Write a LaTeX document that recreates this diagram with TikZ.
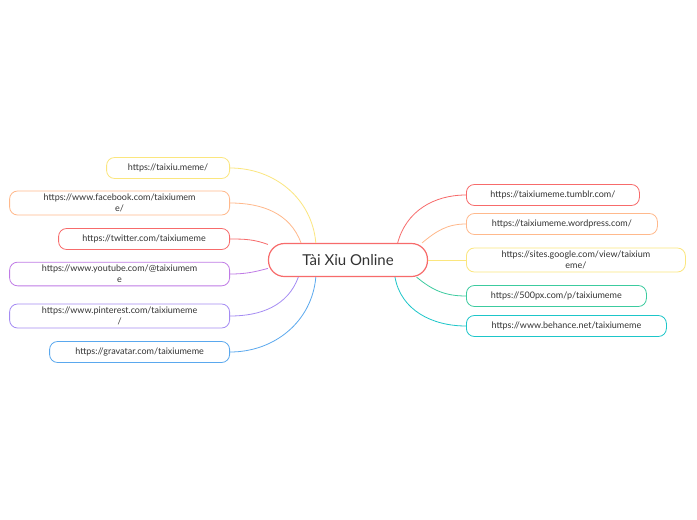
\documentclass[tikz,border=0pt]{standalone}
\usepackage{fontspec}
\setmainfont{Lato}
\definecolor{cyel}{HTML}{FBE67E}
\definecolor{cora}{HTML}{FFB98C}
\definecolor{cred}{HTML}{F76B6B}
\definecolor{cpur}{HTML}{C07BE6}
\definecolor{clav}{HTML}{A58CF3}
\definecolor{cblu}{HTML}{5AA8EE}
\definecolor{cgrn}{HTML}{3CCB9F}
\definecolor{ccya}{HTML}{1DC6C9}
\tikzset{
  leaf/.style={draw=#1, thick, rounded corners=8pt, fill=white, align=center,
    font=\fontsize{9}{11}\selectfont, text=black!80, inner xsep=6pt, inner ysep=3pt, minimum height=21pt},
  lleaf/.style={leaf=#1, anchor=east},
  rleaf/.style={leaf=#1, anchor=west},
  branch/.style={draw=#1, thick}
}
\begin{document}
\begin{tikzpicture}[x=1pt,y=-1pt]
    \useasboundingbox[fill=white] (0,0) rectangle (697,520);

    %Central topic
    \node[draw=cred, very thick, rounded corners=16pt, minimum width=159pt, minimum height=33pt,
      font=\fontsize{15}{18}\selectfont, text=black!80] (root) at (348,260) {Tài Xỉu Online};

    %Left side
    \node[lleaf=cyel, minimum width=123pt] (taixiu) at (230,168) {https://taixiu.meme/};
    \node[lleaf=cora, minimum width=220pt] (facebook) at (230,203) {https://www.facebook.com/taixiumem\\e/};
    \node[lleaf=cred, minimum width=171pt] (twitter) at (230,239) {https://twitter.com/taixiumeme};
    \node[lleaf=cpur, minimum width=220pt] (youtube) at (230,274) {https://www.youtube.com/@taixiumem\\e};
    \node[lleaf=clav, minimum width=220pt] (pinterest) at (230,316) {https://www.pinterest.com/taixiumeme\\/};
    \node[lleaf=cblu, minimum width=180pt] (gravatar) at (230,352) {https://gravatar.com/taixiumeme};

    %Right side
    \node[rleaf=cred, minimum width=173pt] (tumblr) at (466,195) {https://taixiumeme.tumblr.com/};
    \node[rleaf=cora, minimum width=191pt] (wordpress) at (466,224) {https://taixiumeme.wordpress.com/};
    \node[rleaf=cyel, minimum width=219pt] (google) at (466,260) {https://sites.google.com/view/taixium\\eme/};
    \node[rleaf=cgrn, minimum width=180pt] (px) at (466,296) {https://500px.com/p/taixiumeme};
    \node[rleaf=ccya, minimum width=200pt] (behance) at (466,326) {https://www.behance.net/taixiumeme};

    %Branches
    \draw[branch=cyel] (root.152) to[out=95,in=0] (taixiu.east);
    \draw[branch=cora] (root.160) to[out=110,in=0] (facebook.east);
    \draw[branch=cred] (root.169) to[out=160,in=0] (twitter.east);
    \draw[branch=cpur] (root.186) to[out=195,in=0] (youtube.east);
    \draw[branch=clav] (root.199) to[out=250,in=0] (pinterest.east);
    \draw[branch=cblu] (root.208) to[out=265,in=0] (gravatar.east);
    \draw[branch=cred] (root.19) to[out=75,in=180] (tumblr.west);
    \draw[branch=cora] (root.13) to[out=40,in=180] (wordpress.west);
    \draw[branch=cyel] (root.0) -- (google.west);
    \draw[branch=cgrn] (root.-14) to[out=-40,in=180] (px.west);
    \draw[branch=ccya] (root.-20) to[out=-80,in=180] (behance.west);
\end{tikzpicture}
\end{document}
